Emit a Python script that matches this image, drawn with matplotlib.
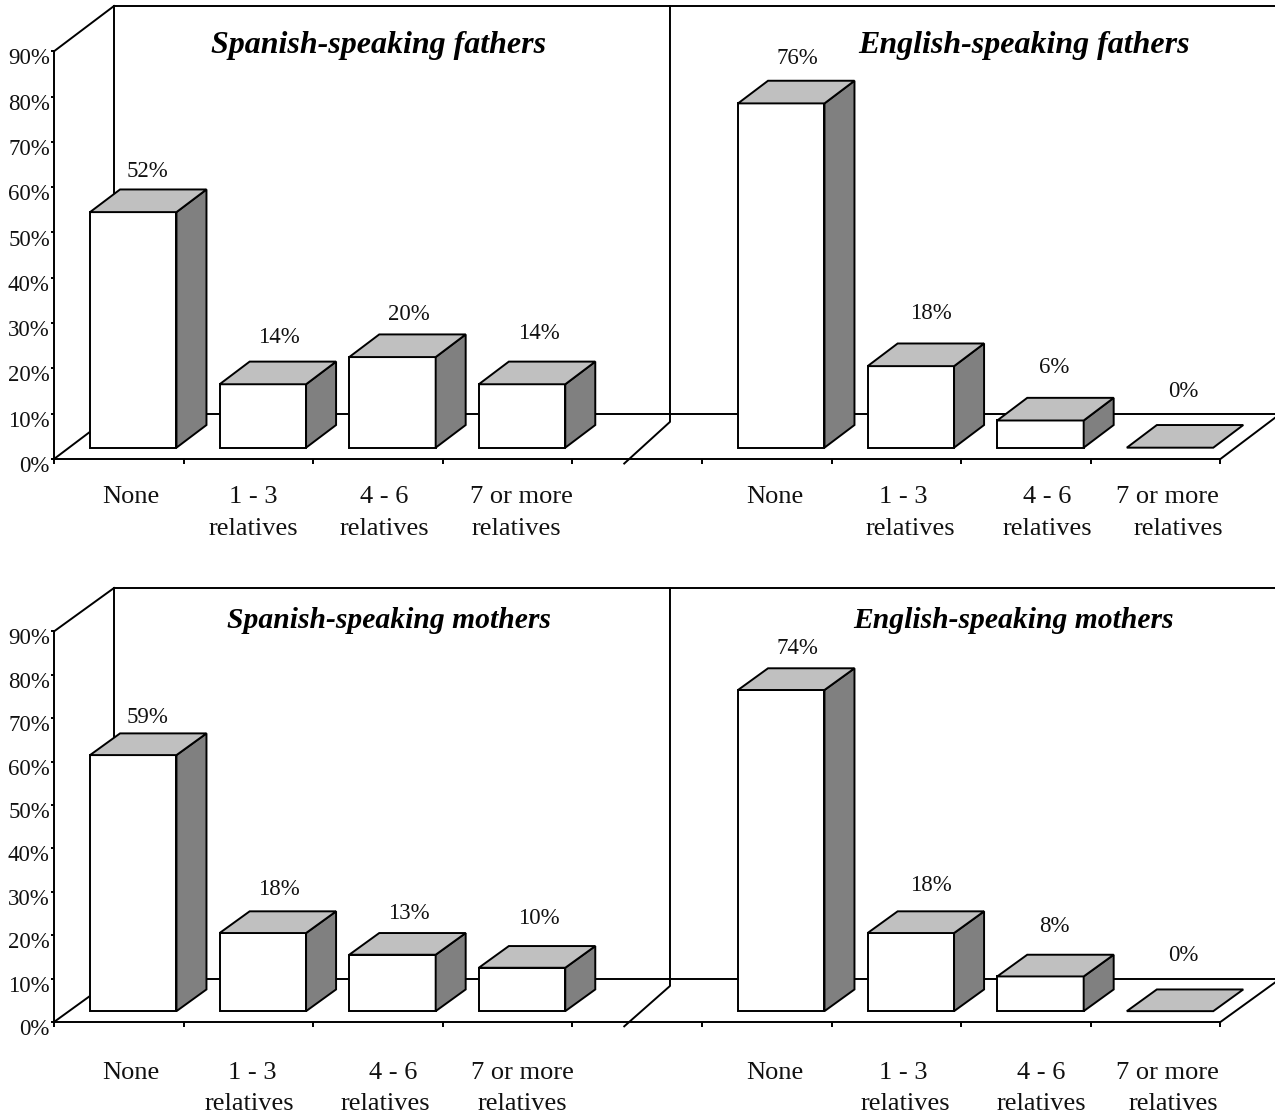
import matplotlib
matplotlib.use('Agg')
import matplotlib.pyplot as plt
from matplotlib.patches import Polygon
from matplotlib.transforms import ScaledTranslation

plt.rcParams['font.family'] = ['Liberation Serif', 'DejaVu Serif']

# ------- data ---------
spanish_fathers = [52, 14, 20, 14]
english_fathers = [76, 18, 6, 0]
spanish_mothers = [59, 18, 13, 10]
english_mothers = [74, 18, 8, 0]
percent_ticks = [0, 10, 20, 30, 40, 50, 60, 70, 80, 90]
cat_first = ['None', '1 - 3', '4 - 6', '7 or more']
cat_second = ['', 'relatives', 'relatives', 'relatives']

# ------- layout (pixels of the 1275x1115 picture) ---------
W = 1275
H = 1115
SLOT = 129.6      # px per category on the floor
X0 = 54           # px of the front left corner
SLOTS_RIGHT = [5, 6, 7, 8]
SLOTS_LEFT = [0, 1, 2, 3]
BAR_PAD = 0.278
BAR_W = 0.667
BAR_DX = 0.2315
BAR_DY = 5.0
BAR_BASE = 2.5
BACK_DX = 0.463
BACK_DY = 10.0

rows = [
    dict(y0=459.0, scale=4.53, wall_low=8.2, title_y=45, title_size=23, line1=497, line2=529,
         panels=[
             dict(values=spanish_fathers, slots=SLOTS_LEFT, title='Spanish-speaking fathers',
                  title_x=379, lift=[18, 24, 20, 28], nudge=[0, 2, 2, 3],
                  x1=[131, 253, 384, 521], x2=[0, 253, 384, 516]),
             dict(values=english_fathers, slots=SLOTS_RIGHT, title='English-speaking fathers',
                  title_x=1024, lift=[22, 30, 30, 34], nudge=[2, 6, 0, -1],
                  x1=[775, 903, 1047, 1167], x2=[0, 910, 1047, 1178]),
         ]),
    dict(y0=1022, scale=4.34, wall_low=8.3, title_y=621, title_size=21.3, line1=1073, line2=1104,
         panels=[
             dict(values=spanish_mothers, slots=SLOTS_LEFT, title='Spanish-speaking mothers',
                  title_x=389, lift=[16, 22, 20, 28], nudge=[0, 2, 2, 3],
                  x1=[131, 252, 393, 522], x2=[0, 249, 385, 522]),
             dict(values=english_mothers, slots=SLOTS_RIGHT, title='English-speaking mothers',
                  title_x=1013, lift=[20, 26, 28, 34], nudge=[2, 6, 0, -1],
                  x1=[775, 903, 1041, 1167], x2=[0, 905, 1041, 1173]),
         ]),
]

LW = 1.4
TOP_COL = '#c0c0c0'
SIDE_COL = '#808080'


def draw_bar(ax, slot, value):
    x = slot + BAR_PAD
    y = BAR_BASE
    top = y + value
    if value > 0:
        ax.add_patch(Polygon([(x, y), (x + BAR_W, y), (x + BAR_W, top), (x, top)],
                             fc='white', ec='black', lw=LW, zorder=4, joinstyle='miter'))
        ax.add_patch(Polygon([(x + BAR_W, y), (x + BAR_W + BAR_DX, y + BAR_DY),
                              (x + BAR_W + BAR_DX, top + BAR_DY), (x + BAR_W, top)],
                             fc=SIDE_COL, ec='black', lw=LW, zorder=4, joinstyle='miter'))
    ax.add_patch(Polygon([(x, top), (x + BAR_W, top), (x + BAR_W + BAR_DX, top + BAR_DY),
                          (x + BAR_DX, top + BAR_DY)],
                         fc=TOP_COL, ec='black', lw=LW, zorder=4, joinstyle='miter'))


fig = plt.figure(figsize=(W / 100, H / 100), dpi=100)
fig.patch.set_facecolor('white')

for row in rows:
    ax = fig.add_axes([0, 0, 1, 1])
    ax.patch.set_alpha(0)
    ax.set_xlim(-X0 / SLOT, (W - X0) / SLOT)
    ax.set_ylim(-(H - row['y0']) / row['scale'], row['y0'] / row['scale'])
    for s in ['top', 'right']:
        ax.spines[s].set_visible(False)
    ax.spines['left'].set_position(('data', 0))
    ax.spines['left'].set_bounds(0, 90)
    ax.spines['bottom'].set_position(('data', 0))
    ax.spines['bottom'].set_bounds(0, 9)
    ax.spines['left'].set_linewidth(LW)
    ax.spines['bottom'].set_linewidth(LW)
    ax.set_xticks(range(10))
    ax.set_xticklabels([])
    ax.set_yticks(percent_ticks)
    ax.set_yticklabels(['%d%%' % p for p in percent_ticks], fontsize=16.5, color='#111111')
    ax.tick_params(axis='x', length=3.5, width=LW, direction='out')
    ax.tick_params(axis='y', length=2.5, width=LW, direction='out', pad=0.5)
    shift = ScaledTranslation(0, -5 / 100, fig.dpi_scale_trans)
    for lab in ax.get_yticklabels():
        lab.set_transform(lab.get_transform() + shift)

    # walls and floor
    ax.plot([0, BACK_DX], [0, BACK_DY], color='k', lw=LW, zorder=2)
    ax.plot([0, BACK_DX], [90, 90 + BACK_DY], color='k', lw=LW, zorder=2)
    ax.plot([BACK_DX, BACK_DX], [BACK_DY, 90 + BACK_DY], color='k', lw=LW, zorder=2)
    ax.plot([BACK_DX, 9 + BACK_DX], [90 + BACK_DY, 90 + BACK_DY], color='k', lw=LW, zorder=2)
    ax.plot([BACK_DX, 9 + BACK_DX], [BACK_DY, BACK_DY], color='k', lw=LW, zorder=2)
    ax.plot([9, 9 + BACK_DX], [0, BACK_DY], color='k', lw=LW, zorder=2)
    # break between the two panels
    ax.plot([4.4, 4.753, 4.753], [-1, row['wall_low'], 90 + BACK_DY], color='k', lw=LW, zorder=2)

    for panel in row['panels']:
        for i, v in enumerate(panel['values']):
            slot = panel['slots'][i]
            draw_bar(ax, slot, v)
            lift_y = v + BAR_BASE + BAR_DY + panel['lift'][i] / row['scale']
            label_x = slot + BAR_PAD + (BAR_W + BAR_DX) / 2 + (panel['nudge'][i] - 1) / SLOT
            ax.text(label_x, lift_y, '%d%%' % v, fontsize=16.5,
                    ha='center', va='center', color='#111111', zorder=6)
            fig.text(panel['x1'][i] / W, 1 - row['line1'] / H, cat_first[i], fontsize=19,
                     ha='center', va='center', color='#111111')
            if cat_second[i]:
                fig.text(panel['x2'][i] / W, 1 - row['line2'] / H, cat_second[i], fontsize=19,
                         ha='center', va='center', color='#111111')
        fig.text(panel['title_x'] / W, 1 - row['title_y'] / H, panel['title'], fontsize=row['title_size'],
                 fontweight='bold', fontstyle='italic', ha='center', va='center', color='black')

fig.savefig('out.png', dpi=100)
